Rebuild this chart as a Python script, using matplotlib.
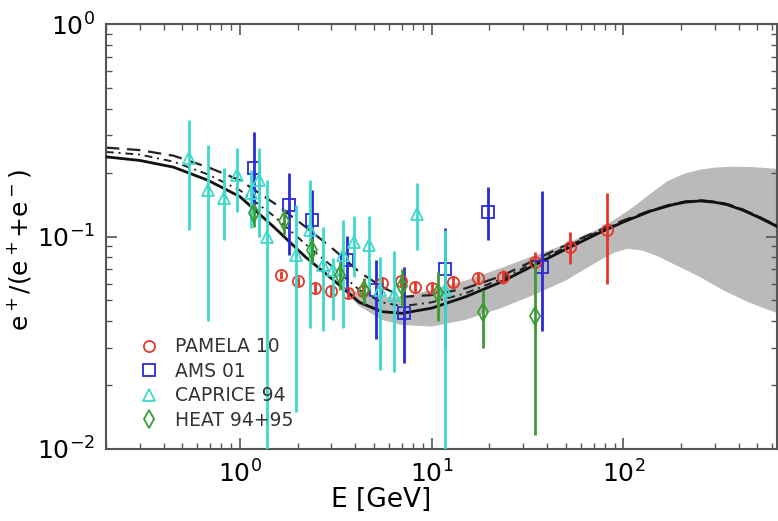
import numpy as np
import matplotlib
matplotlib.use("Agg")
import matplotlib.pyplot as plt
from matplotlib.lines import Line2D

# ---------------- data ----------------
# model curves (energy in GeV, positron fraction)
model_E = [0.2, 0.3, 0.45, 0.68, 1.0, 1.5, 2.2, 3.1, 4.2, 5.5, 7.0, 10, 15, 23, 34, 50, 75, 100, 140, 180, 210, 250, 300, 350, 420, 500, 640]
model_solid = [0.237, 0.228, 0.212, 0.184, 0.154, 0.111, 0.080, 0.062, 0.049, 0.0443, 0.0435, 0.046, 0.052, 0.061, 0.073, 0.087, 0.104, 0.117, 0.132, 0.141, 0.145, 0.147, 0.145, 0.141, 0.133, 0.124, 0.111]
model_dashed = [0.262, 0.255, 0.240, 0.212, 0.184, 0.144, 0.111, 0.0865, 0.068, 0.058, 0.052, 0.053, 0.057, 0.065, 0.077, 0.091, 0.107, 0.119, 0.133, 0.142, 0.146, 0.148, 0.146, 0.142, 0.134, 0.125, 0.112]
model_dashdot = [0.250, 0.243, 0.225, 0.196, 0.165, 0.125, 0.092, 0.071, 0.056, 0.049, 0.047, 0.049, 0.054, 0.063, 0.075, 0.089, 0.106, 0.118, 0.133, 0.142, 0.146, 0.148, 0.146, 0.142, 0.134, 0.125, 0.112]

# uncertainty band (upper and lower edges)
band_up_E = [3.2, 4.2, 5.5, 7.0, 10, 15, 23, 34, 50, 75, 90, 112, 140, 170, 210, 250, 300, 370, 480, 640]
band_upper = [0.060, 0.054, 0.052, 0.052, 0.056, 0.062, 0.071, 0.081, 0.092, 0.109, 0.120, 0.137, 0.160, 0.182, 0.198, 0.206, 0.211, 0.213, 0.212, 0.208]
band_lo_E = [3.2, 4.2, 5.5, 7.0, 10, 15, 23, 34, 50, 75, 90, 105, 125, 150, 190, 250, 330, 450, 640]
band_lower = [0.060, 0.047, 0.0405, 0.0383, 0.0377, 0.0405, 0.046, 0.053, 0.062, 0.077, 0.084, 0.0875, 0.086, 0.081, 0.073, 0.0647, 0.056, 0.049, 0.0435]

# PAMELA 10
pam_E = [1.64, 2.0, 2.45, 2.98, 3.65, 4.4, 5.5, 6.9, 8.2, 10.1, 13.0, 17.4, 23.5, 34.7, 53.0, 82.4]
pam_f = [0.0659, 0.0617, 0.0575, 0.0552, 0.0543, 0.0556, 0.0606, 0.0618, 0.0580, 0.0575, 0.0612, 0.0636, 0.0645, 0.0755, 0.089, 0.107]
pam_lo = [0.003, 0.003, 0.003, 0.003, 0.003, 0.003, 0.003, 0.003, 0.003, 0.003, 0.004, 0.004, 0.005, 0.009, 0.015, 0.047]
pam_hi = [0.003, 0.003, 0.003, 0.003, 0.003, 0.003, 0.003, 0.003, 0.003, 0.003, 0.004, 0.004, 0.005, 0.009, 0.016, 0.053]

# AMS 01
ams_E = [1.18, 1.8, 2.38, 3.62, 5.1, 7.14, 11.8, 19.7, 37.5]
ams_f = [0.209, 0.141, 0.120, 0.0775, 0.0559, 0.0435, 0.070, 0.131, 0.072]
ams_lo = [0.07, 0.059, 0.045, 0.022, 0.023, 0.018, 0.04, 0.035, 0.036]
ams_hi = [0.10, 0.058, 0.045, 0.023, 0.022, 0.028, 0.04, 0.040, 0.091]

# CAPRICE 94
cap_E = [0.54, 0.68, 0.83, 0.97, 1.14, 1.25, 1.39, 1.95, 2.33, 2.72, 3.06, 3.46, 3.93, 4.69, 5.4, 6.4, 8.4, 11.8]
cap_f = [0.233, 0.165, 0.152, 0.195, 0.160, 0.185, 0.0995, 0.082, 0.107, 0.0735, 0.0696, 0.082, 0.0945, 0.091, 0.056, 0.053, 0.128, 0.056]
cap_lo = [0.126, 0.125, 0.056, 0.065, 0.05, 0.085, 0.095, 0.067, 0.07, 0.0375, 0.029, 0.045, 0.03, 0.035, 0.0324, 0.030, 0.0415, 0.052]
cap_hi = [0.120, 0.105, 0.058, 0.065, 0.045, 0.075, 0.085, 0.058, 0.077, 0.0375, 0.010, 0.038, 0.03, 0.034, 0.024, 0.032, 0.050, 0.051]

# HEAT 94+95
heat_E = [1.18, 1.69, 2.38, 3.34, 4.42, 7.0, 10.85, 18.5, 34.6]
heat_f = [0.129, 0.118, 0.0865, 0.066, 0.0559, 0.0585, 0.0541, 0.0443, 0.0423]
heat_lo = [0.018, 0.016, 0.012, 0.010, 0.008, 0.012, 0.014, 0.0143, 0.0306]
heat_hi = [0.009, 0.016, 0.012, 0.010, 0.008, 0.012, 0.014, 0.0116, 0.0327]

# ---------------- plot ----------------
fig = plt.figure(figsize=(7.78, 5.21), dpi=100)
ax = fig.add_axes([106/778, 72/521, 671/778, 425/521])

poly_E = list(band_up_E) + list(band_lo_E[::-1])
poly_f = list(band_upper) + list(band_lower[::-1])
ax.fill(poly_E, poly_f, color='#bababa', lw=0, zorder=1)
ax.plot(model_E, model_dashed, color='#222222', lw=1.6, ls=(0, (6, 3.5)), zorder=2)
ax.plot(model_E, model_dashdot, color='#222222', lw=1.4, ls=(0, (4, 2.5, 1, 2.5)), zorder=2)
ax.plot(model_E, model_solid, color='#111111', lw=2.0, zorder=3)

sets = [
    (pam_E, pam_f, pam_lo, pam_hi, 'o', '#e8352a', 'PAMELA 10', 8),
    (ams_E, ams_f, ams_lo, ams_hi, 's', '#2a2ad6', 'AMS 01', 9),
    (cap_E, cap_f, cap_lo, cap_hi, '^', '#3fd8cc', 'CAPRICE 94', 9),
    (heat_E, heat_f, heat_lo, heat_hi, 'd', '#3d9a35', 'HEAT 94+95', 9),
]
order = [2, 1, 3, 0]
for i in order:
    E, f, lo, hi, mk, col, lab, ms = sets[i]
    ax.errorbar(E, f, yerr=[lo, hi], fmt=mk, ms=ms, mfc='none', mec=col, mew=1.3,
                ecolor=col, elinewidth=2.0, capsize=0, zorder=4 + i * 0.1)

ax.set_xscale('log')
ax.set_yscale('log')
ax.set_xlim(0.2, 634)
ax.set_ylim(0.01, 1)

ax.set_xlabel('E [GeV]', fontsize=19)
ax.xaxis.set_label_coords((381 - 106) / 671, -0.09)
ax.set_ylabel(r'e$^+$/(e$^+$+e$^-$)', fontsize=18)
ax.yaxis.set_label_coords((33 - 106) / 671, (449 - 250) / 425)

for s in ax.spines.values():
    s.set_color('#555555')
    s.set_linewidth(1.5)
ax.tick_params(which='both', direction='in', top=True, right=True, colors='#555555',
               labelcolor='black', labelsize=18)
ax.tick_params(which='major', length=8, width=1.2, pad=8)
ax.tick_params(which='minor', length=4, width=1.0)

handles = [Line2D([], [], ls='none', marker=s[4], ms=s[7], mfc='none', mec=s[5], mew=1.3)
           for s in sets]
labels = [s[6] for s in sets]
leg = ax.legend(handles, labels, loc='lower left',
                bbox_to_anchor=(0.025, 0.005), frameon=False, fontsize=13.5,
                handletextpad=0.9, labelspacing=0.3, handlelength=1.0)
for t in leg.get_texts():
    t.set_color('#333333')

fig.savefig('out.png', dpi=100)
